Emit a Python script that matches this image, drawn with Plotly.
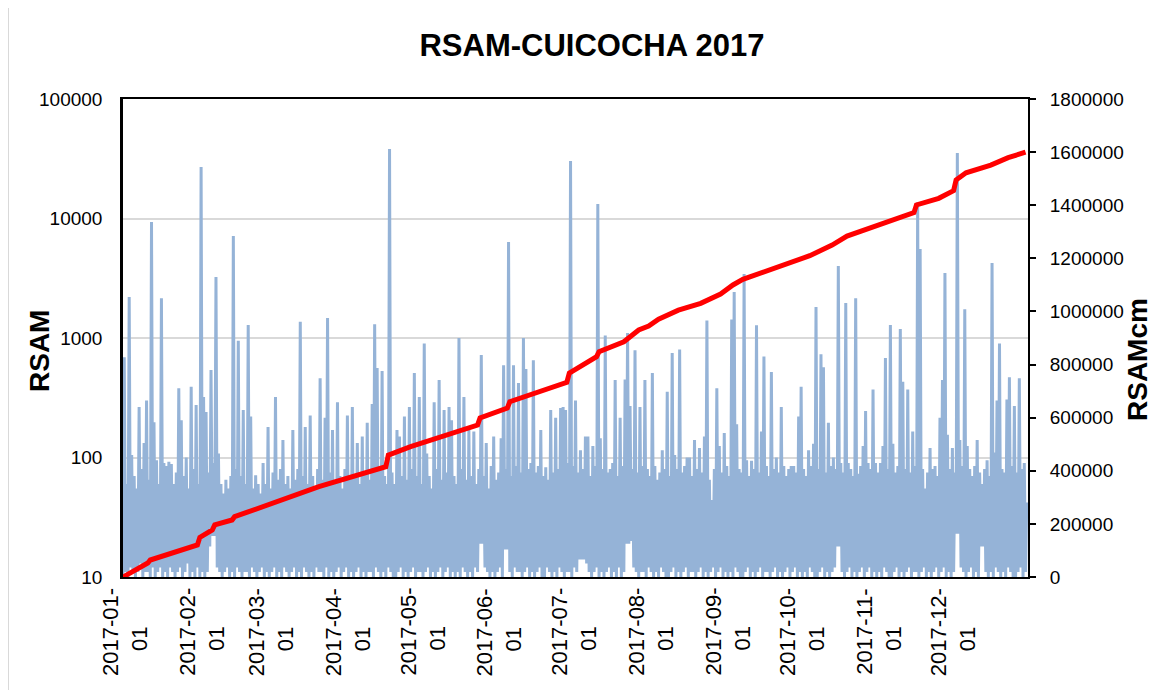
import pandas as pd
import plotly.graph_objects as go

# ---------------- data ----------------
# daily maximum of RSAM (one value per day of 2017)
rsam_daily_max = [
    690, 60, 2200, 105, 70, 55, 265, 80, 132, 300,
    65, 9360, 197, 95, 60, 2150, 90, 85, 92, 88,
    60, 75, 380, 205, 70, 100, 55, 390, 80, 275,
    60, 27000, 320, 240, 75, 540, 90, 3240, 108, 60,
    50, 65, 55, 70, 7150, 80, 950, 70, 250, 60,
    1285, 220, 55, 71, 60, 50, 90, 60, 180, 55,
    75, 320, 65, 80, 140, 60, 70, 55, 170, 65,
    80, 1370, 70, 180, 60, 225, 70, 55, 80, 460,
    65, 215, 1470, 75, 170, 60, 290, 70, 55, 80,
    225, 65, 265, 70, 132, 60, 150, 75, 195, 65,
    280, 1300, 560, 80, 530, 70, 60, 38200, 75, 60,
    170, 150, 70, 220, 65, 265, 80, 510, 70, 320,
    60, 900, 108, 70, 55, 290, 80, 445, 65, 250,
    75, 265, 205, 70, 60, 1000, 80, 320, 65, 170,
    70, 165, 60, 80, 720, 70, 132, 55, 85, 150,
    65, 75, 145, 590, 80, 6350, 70, 590, 85, 420,
    75, 1000, 550, 80, 90, 650, 75, 85, 170, 70,
    83, 65, 250, 75, 215, 80, 260, 265, 250, 90,
    30300, 85, 300, 75, 115, 80, 150, 150, 70, 125,
    85, 13200, 145, 80, 1050, 75, 80, 90, 445, 70,
    215, 85, 450, 1100, 270, 80, 790, 75, 265, 85,
    445, 80, 70, 510, 85, 65, 75, 115, 80, 355,
    70, 750, 105, 80, 800, 75, 85, 100, 100, 70,
    140, 80, 120, 75, 150, 1400, 65, 44, 80, 380,
    125, 75, 160, 85, 70, 1430, 2430, 190, 80, 75,
    3430, 95, 70, 94, 80, 1280, 75, 165, 700, 85,
    70, 520, 80, 100, 75, 265, 85, 70, 80, 85,
    85, 75, 220, 390, 80, 70, 115, 85, 130, 1815,
    80, 730, 570, 75, 195, 85, 100, 80, 4010, 90,
    75, 1960, 90, 80, 70, 2150, 73, 85, 125, 245,
    90, 80, 370, 90, 75, 90, 125, 680, 80, 1285,
    130, 75, 85, 1190, 430, 80, 370, 75, 165, 85,
    13700, 5560, 80, 55, 75, 120, 80, 85, 70, 215,
    445, 3500, 155, 80, 120, 75, 35300, 140, 85, 1740,
    125, 80, 70, 85, 140, 75, 60, 80, 95, 70,
    4250, 110, 300, 900, 80, 75, 305, 470, 85, 270,
    75, 460, 80, 90, 42,
]

# daily minimum of RSAM
rsam_daily_min = [
    10, 11, 10, 12, 11, 10, 11, 13, 10, 11,
    11, 10, 12, 10, 11, 12, 10, 11, 10, 12,
    11, 10, 11, 12, 10, 11, 13, 10, 11, 10,
    12, 10, 11, 10, 11, 18, 22, 22, 12, 11,
    10, 11, 12, 10, 11, 10, 12, 11, 10, 11,
    11, 10, 12, 11, 10, 11, 12, 10, 11, 10,
    11, 12, 10, 11, 10, 12, 11, 10, 11, 12,
    10, 11, 10, 12, 11, 10, 11, 10, 12, 11,
    11, 10, 12, 10, 11, 10, 11, 12, 10, 11,
    12, 10, 11, 10, 11, 12, 10, 11, 10, 11,
    11, 10, 12, 11, 10, 11, 10, 12, 11, 10,
    10, 11, 12, 10, 11, 10, 11, 12, 10, 11,
    11, 10, 11, 12, 10, 11, 10, 11, 12, 10,
    11, 12, 10, 11, 10, 11, 10, 12, 11, 10,
    11, 10, 12, 11, 19, 19, 12, 11, 10, 11,
    10, 11, 12, 10, 17, 17, 11, 10, 12, 11,
    11, 10, 11, 12, 10, 11, 10, 11, 12, 10,
    10, 12, 11, 10, 11, 10, 12, 11, 10, 11,
    11, 10, 12, 11, 14, 14, 14, 13, 11, 10,
    11, 12, 10, 11, 10, 11, 12, 10, 11, 10,
    12, 10, 11, 19, 19, 20, 12, 11, 10, 11,
    11, 10, 12, 11, 10, 11, 10, 12, 11, 10,
    10, 11, 12, 10, 11, 10, 11, 12, 10, 11,
    11, 10, 11, 12, 10, 11, 10, 11, 12, 10,
    11, 12, 10, 11, 10, 11, 10, 12, 11, 10,
    10, 11, 12, 10, 11, 10, 11, 12, 10, 11,
    11, 10, 11, 12, 10, 11, 10, 11, 12, 10,
    11, 12, 10, 11, 10, 11, 10, 12, 11, 10,
    10, 11, 12, 10, 11, 10, 11, 12, 18, 18,
    11, 10, 11, 12, 10, 11, 10, 11, 12, 10,
    11, 12, 10, 11, 10, 11, 10, 12, 11, 10,
    10, 11, 12, 10, 11, 10, 11, 12, 10, 11,
    11, 10, 11, 12, 10, 11, 10, 11, 12, 10,
    11, 12, 10, 11, 10, 11, 23, 23, 12, 11,
    10, 11, 12, 10, 11, 10, 18, 18, 11, 10,
    11, 10, 12, 11, 10, 11, 10, 12, 11, 10,
    10, 11, 12, 10, 11,
]

# cumulative RSAM (RSAMcm)
cum_dates = [
    "2017-01-01", "2017-01-11", "2017-01-12", "2017-01-31", "2017-02-01",
    "2017-02-06", "2017-02-07", "2017-02-14", "2017-02-15", "2017-02-26",
    "2017-03-21", "2017-04-17", "2017-04-18", "2017-04-27", "2017-05-14",
    "2017-05-24", "2017-05-25", "2017-06-05", "2017-06-06", "2017-06-29",
    "2017-06-30", "2017-07-11", "2017-07-12", "2017-07-22", "2017-07-28",
    "2017-08-01", "2017-08-05", "2017-08-13", "2017-08-22", "2017-08-30",
    "2017-09-04", "2017-09-08", "2017-10-05", "2017-10-14", "2017-10-20",
    "2017-11-02", "2017-11-16", "2017-11-17", "2017-11-26", "2017-12-02",
    "2017-12-03", "2017-12-07", "2017-12-17", "2017-12-24", "2017-12-31",
]
cum_values = [
    0, 52700, 64000, 120500, 149500,
    177000, 196000, 214600, 227000, 264700,
    340000, 415400, 459000, 490700, 540800,
    572000, 599000, 636000, 660000, 733000,
    768000, 829600, 848600, 886000, 930000,
    945000, 971000, 1005000, 1030600, 1065700,
    1099700, 1121000, 1210000, 1250000, 1284000,
    1325600, 1372000, 1401000, 1426000, 1455000,
    1495000, 1522000, 1551000, 1579000, 1600000,
]

# x tick labels (Excel wraps "2017-01-01" onto two lines)
month_ticks = [
    "2017-01-01", "2017-02-01", "2017-03-01", "2017-04-01", "2017-05-01",
    "2017-06-01", "2017-07-01", "2017-08-01", "2017-09-01", "2017-10-01",
    "2017-11-01", "2017-12-01",
]
month_label_line1 = [
    "2017-01-", "2017-02-", "2017-03-", "2017-04-", "2017-05-", "2017-06-",
    "2017-07-", "2017-08-", "2017-09-", "2017-10-", "2017-11-", "2017-12-",
]
month_label_line2 = [
    "01", "01", "01", "01", "01", "01", "01", "01", "01", "01", "01", "01",
]

left_tickvals = [10, 100, 1000, 10000, 100000]
left_ticktext = ["10", "100", "1000", "10000", "100000"]

# ---------------- build series ----------------
days = pd.date_range("2017-01-01", periods=len(rsam_daily_max), freq="D")
x_blue, y_blue = [], []
for d, lo, hi in zip(days, rsam_daily_min, rsam_daily_max):
    x_blue += [d, d + pd.Timedelta(hours=12)]
    y_blue += [lo, hi]

FONT = "Liberation Sans, Arial, sans-serif"

# page offset compensation (body margin)
OX, OY = 8, 8
L, T, PW, PH = 123 - OX, 99 - OY, 905, 478

fig = go.Figure()
fig.add_trace(go.Scatter(
    x=x_blue, y=y_blue, mode="lines", name="RSAM",
    line=dict(color="#95B3D7", width=3), yaxis="y",
))
fig.add_trace(go.Scatter(
    x=cum_dates, y=cum_values, mode="lines", name="RSAMcm",
    line=dict(color="#FF0000", width=5), yaxis="y2",
))

annotations = [
    dict(text="<b>RSAM</b>", xref="paper", yref="paper",
         x=(39 - 123) / PW, y=(577 - 351) / PH,
         textangle=-90, showarrow=False,
         font=dict(size=28, family=FONT, color="black"),
         xanchor="center", yanchor="middle"),
    dict(text="<b>RSAMcm</b>", xref="paper", yref="paper",
         x=(1137 - 123) / PW, y=(577 - 360) / PH,
         textangle=-90, showarrow=False,
         font=dict(size=28, family=FONT, color="black"),
         xanchor="center", yanchor="middle"),
]
for t, l1, l2 in zip(month_ticks, month_label_line1, month_label_line2):
    annotations.append(dict(
        x=t, y=0, xref="x", yref="paper", text=l1,
        textangle=-90, showarrow=False,
        xanchor="center", yanchor="middle", xshift=-13, yshift=-55,
        font=dict(size=22, family=FONT, color="black"),
    ))
    annotations.append(dict(
        x=t, y=0, xref="x", yref="paper", text=l2,
        textangle=-90, showarrow=False,
        xanchor="center", yanchor="middle", xshift=16, yshift=-62,
        font=dict(size=22, family=FONT, color="black"),
    ))

fig.update_layout(
    width=1168, height=690,
    margin=dict(l=L, r=1168 - L - PW, t=T, b=690 - T - PH),
    paper_bgcolor="white", plot_bgcolor="white",
    showlegend=False,
    font=dict(family=FONT, color="black"),
    title=dict(
        text="<b>RSAM-CUICOCHA 2017</b>",
        x=(592 - OX) / 1168, xanchor="center",
        y=1 - (45 - OY) / 690, yanchor="middle",
        font=dict(size=31, family=FONT, color="black"),
    ),
    xaxis=dict(
        type="date",
        range=["2017-01-01", "2018-01-01"],
        tickvals=month_ticks, showticklabels=False,
        ticks="", showgrid=False,
        showline=True, linecolor="black", linewidth=2, mirror=True,
        zeroline=False,
    ),
    yaxis=dict(
        type="log", range=[1, 5],
        tickvals=left_tickvals, ticktext=left_ticktext,
        tickfont=dict(size=19, family=FONT, color="black"),
        showgrid=True, gridcolor="#D9D9D9", gridwidth=2,
        showline=True, linecolor="black", linewidth=2.5,
        ticks="", ticklabelstandoff=14,
        zeroline=False,
    ),
    yaxis2=dict(
        overlaying="y", side="right",
        range=[0, 1800000], dtick=200000, tickformat="d",
        tickfont=dict(size=19, family=FONT, color="black"),
        showgrid=False,
        showline=True, linecolor="black", linewidth=2,
        ticks="outside", ticklen=6, tickcolor="black", tickwidth=1.5,
        ticklabelstandoff=10,
        zeroline=False,
    ),
    annotations=annotations,
    shapes=[
        dict(type="line", xref="paper", yref="paper",
             x0=(8 - 123) / PW, x1=(8 - 123) / PW, y0=-0.3, y1=1.3,
             line=dict(color="#D9D9D9", width=2)),
    ],
)

fig.write_html("out.html")
